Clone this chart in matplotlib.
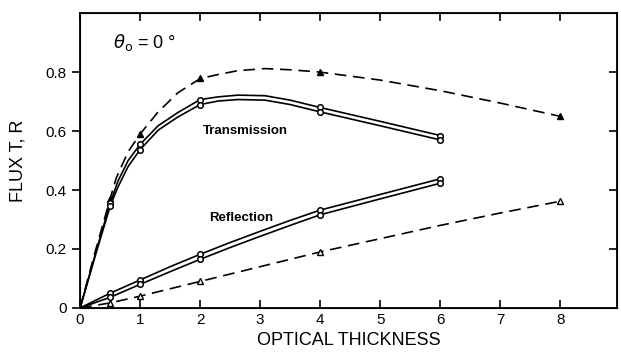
import matplotlib.pyplot as plt

plt.rcParams['font.family'] = ['Liberation Sans', 'DejaVu Sans']

# transmission curves (optical thickness -> flux)
x_tdash = [0, 0.25, 0.5, 0.6, 0.8, 1, 1.3, 1.63, 2, 2.3, 2.63, 3.08, 3.5, 4, 5, 6, 7, 8]
t_dash = [0, 0.19, 0.37, 0.44, 0.53, 0.59, 0.665, 0.73, 0.778, 0.792, 0.805, 0.812, 0.808, 0.80,
          0.773, 0.737, 0.695, 0.65]
x_tsol = [0, 0.25, 0.5, 0.63, 0.8, 1, 1.3, 1.63, 2, 2.3, 2.63, 3.08, 3.5, 4, 5, 6]
t_sol1 = [0, 0.18, 0.355, 0.43, 0.5, 0.555, 0.618, 0.663, 0.707, 0.716, 0.722, 0.72, 0.705, 0.68,
          0.633, 0.585]
t_sol2 = [0, 0.175, 0.345, 0.41, 0.48, 0.537, 0.603, 0.648, 0.69, 0.702, 0.707, 0.705, 0.69, 0.665,
          0.618, 0.57]

# reflection curves
x_rsol = [0, 0.5, 1, 1.5, 2, 2.5, 3, 3.5, 4, 5, 6]
r_sol1 = [0, 0.05, 0.095, 0.14, 0.182, 0.222, 0.26, 0.297, 0.332, 0.385, 0.438]
r_sol2 = [0, 0.036, 0.08, 0.123, 0.165, 0.205, 0.243, 0.28, 0.316, 0.37, 0.423]
x_rdash = [0, 0.5, 1, 2, 3, 4, 5, 6, 7, 8]
r_dash = [0, 0.017, 0.04, 0.09, 0.14, 0.19, 0.235, 0.28, 0.322, 0.362]

# marked data points
x_tri = [0.5, 1, 2, 4, 8]
t_tri = [0.37, 0.59, 0.78, 0.80, 0.65]
r_tri = [0.017, 0.04, 0.09, 0.19, 0.362]
x_circ = [0.5, 1, 2, 4, 6]
t_c1 = [0.355, 0.555, 0.707, 0.68, 0.585]
t_c2 = [0.345, 0.537, 0.69, 0.665, 0.57]
r_c1 = [0.05, 0.095, 0.182, 0.332, 0.438]
r_c2 = [0.036, 0.08, 0.165, 0.316, 0.423]

fig = plt.figure(figsize=(6.21, 3.56), dpi=100)
ax = fig.add_axes([0.129, 0.135, 0.865, 0.828])

dash = (0, (7, 4))
ax.plot(x_tdash, t_dash, color='black', lw=1.2, linestyle=dash)
ax.plot(x_rdash, r_dash, color='black', lw=1.2, linestyle=dash)
for yy in [t_sol1, t_sol2]:
    ax.plot(x_tsol, yy, color='black', lw=1.2)
for yy in [r_sol1, r_sol2]:
    ax.plot(x_rsol, yy, color='black', lw=1.2)

ax.plot(x_tri, t_tri, '^', color='black', ms=4, ls='none')
ax.plot(x_tri, r_tri, '^', color='black', ms=4, ls='none', mfc='white')
for yy in [t_c1, t_c2, r_c1, r_c2]:
    ax.plot(x_circ, yy, 'o', color='black', ms=4, mfc='white', mew=1.1, ls='none')

ax.text(0.55, 0.9, r'$\theta_{\rm o}$ = 0 °', fontsize=13, va='center')
ax.text(2.05, 0.6, 'Transmission', fontsize=9.5, fontweight='bold', va='center')
ax.text(2.15, 0.305, 'Reflection', fontsize=9.5, fontweight='bold', va='center')

ax.set_xlim(0, 8.95)
ax.set_ylim(0, 1.0)
ax.set_xticks(range(0, 9))
ax.set_xticklabels([str(i) for i in range(0, 9)])
ax.set_yticks([0, 0.2, 0.4, 0.6, 0.8])
ax.set_yticklabels(['0', '0.2', '0.4', '0.6', '0.8'])
ax.tick_params(axis='x', direction='in', top=True, length=6, width=1.2, labelsize=11)
ax.tick_params(axis='y', direction='out', length=6, width=1.2, labelsize=11)
for s in ax.spines.values():
    s.set_linewidth(1.3)

# inward ticks on the right side
ax2 = ax.twinx()
ax2.set_ylim(0, 1.0)
ax2.set_yticks([0.2, 0.4, 0.6, 0.8])
ax2.tick_params(axis='y', direction='in', length=6, width=1.2, labelright=False)

ax.set_xlabel('OPTICAL THICKNESS', fontsize=13)
ax.set_ylabel('FLUX T, R', fontsize=13, labelpad=14)

fig.savefig('out.png', dpi=100)
